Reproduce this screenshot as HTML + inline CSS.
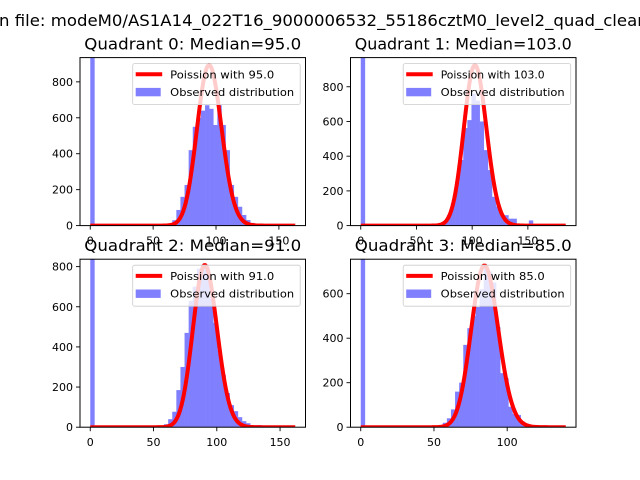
<!DOCTYPE html>
<html><head><meta charset="utf-8"><style>
html,body{margin:0;padding:0;background:#fff;width:640px;height:480px;overflow:hidden}
svg{display:block;font-family:"DejaVu Sans","Liberation Sans",sans-serif}
</style></head><body>
<svg id="fig" width="640" height="480" viewBox="0 0 640 480">
<text x="-1" y="26" font-size="16" textLength="645" lengthAdjust="spacingAndGlyphs">n file: modeM0/AS1A14_022T16_9000006532_55186cztM0_level2_quad_clear</text>
</svg>
<script>
// ---- data ----
const quadrantNames = ["Quadrant 0","Quadrant 1","Quadrant 2","Quadrant 3"];
const medians = [95.0, 103.0, 91.0, 85.0];
const poissonTotals = [21840, 23530, 19320, 16800];
const binMax = [163, 184, 162, 140];
const yMax = [935, 968, 837, 755];
const xTicks = [[0,50,100,150],[0,50,100,150],[0,50,100,150],[0,50,100]];
const yTicks = [[0,200,400,600,800],[0,200,400,600,800],[0,200,400,600,800],[0,200,400,600]];
const q0Counts = [2000,0,0,0,0,0,0,0,0,0, 0,0,0,0,0,0,0,5,8,12, 30,87,160,226,420,550,600,640,670,650, 560,670,560,420,226,160,105,59,31,15, 8,5,3,0,0,0,0,0,0,0];
const q1Counts = [2000,0,0,0,0,0,0,0,0,0, 0,0,0,0,0,3,0,3,5,10, 20,60,130,253,378,562,608,760,720,600, 435,320,166,110,60,60,40,40,10,10, 5,30,5,0,0,0,0,0,0,0];
const q2Counts = [2000,0,0,0,0,0,0,0,0,0, 0,0,0,0,0,0,3,5,15,40, 77,185,300,470,630,700,790,800,800,650, 520,385,260,170,110,80,50,30,20,10, 8,10,5,0,0,0,0,0,0,0];
const q3Counts = [2000,0,0,0,0,0,0,0,0,0, 5,0,0,0,0,0,5,3,5,8, 20,40,80,160,200,370,445,500,540,620, 715,700,650,450,243,220,92,60,55,25, 15,8,5,0,0,0,0,0,0,0];
const allCounts = [q0Counts,q1Counts,q2Counts,q3Counts];

// ---- layout ----
const NS = "http://www.w3.org/2000/svg";
const svg = document.getElementById('fig');
const axesBoxes = [[80,57.6,225.5,168],[350.5,57.6,225.5,168],[80,259.2,225.5,168],[350.5,259.2,225.5,168]];
function mk(tag, attrs, parent){const e=document.createElementNS(NS,tag);for(const k in attrs)e.setAttribute(k,attrs[k]);(parent||svg).appendChild(e);return e;}

const defs = mk('defs',{});
for(let q=0;q<4;q++){
  const [L,T,W,H] = axesBoxes[q];
  const D = binMax[q];
  const xmin=-0.05*D, xmax=1.05*D;
  const sx = v => L + (v-xmin)/(xmax-xmin)*W;
  const sy = v => T + H - v/yMax[q]*H;
  const cp = mk('clipPath',{id:'clip'+q},defs);
  mk('rect',{x:L,y:T,width:W,height:H},cp);

  const ax = mk('g',{});
  
  

  const title = mk('text',{x:L+W/2,y:T-8,'font-size':16,'text-anchor':'middle',textLength:217,lengthAdjust:'spacingAndGlyphs'},ax);
  title.textContent = quadrantNames[q]+': Median='+medians[q].toFixed(1);
  
  

  const plot = mk('g',{'clip-path':'url(#clip'+q+')'},ax);
  const counts = allCounts[q];
  const w = D/counts.length;
  counts.forEach((c,i)=>{
    if(c<=0) return;
    const x0=sx(i*w), x1=sx((i+1)*w);
    const r = mk('rect',{x:x0,y:sy(c),width:x1-x0+0.3,height:sy(0)-sy(c),fill:'#8080ff'},plot);
    
    
  });
  // poisson curve
  const lam = medians[q], N = poissonTotals[q];
  let pts=[], logf=0;
  for(let k=0;k<=Math.floor(D);k++){
    if(k>0) logf += Math.log(k);
    const p = Math.exp(k*Math.log(lam)-lam-logf);
    pts.push(sx(k).toFixed(2)+','+sy(N*p).toFixed(2));
  }
  const line = mk('polyline',{points:pts.join(' '),fill:'none',stroke:'#ff0000','stroke-width':4,'stroke-linejoin':'round'},plot);
  
  

  // ticks
  xTicks[q].forEach(t=>{
    const x=sx(t);
    mk('line',{x1:x,x2:x,y1:T+H,y2:T+H+4,stroke:'#000','stroke-width':0.9},ax);
    const tx=mk('text',{x:x,y:T+H+19,'font-size':11,'text-anchor':'middle'},ax);
    tx.textContent=t;
    
    
  });
  yTicks[q].forEach(t=>{
    const y=sy(t);
    mk('line',{x1:L-4,x2:L,y1:y,y2:y,stroke:'#000','stroke-width':0.9},ax);
    const ty=mk('text',{x:L-7,y:y+4,'font-size':11,'text-anchor':'end'},ax);
    ty.textContent=t;
    
    
  });

  // legend
  const lg = mk('g',{},ax);
  
  
  const R=L+W-5.3, Lx=R-167.5, Ty=T+6;
  mk('rect',{x:Lx,y:Ty,width:167.5,height:41,rx:2,fill:'#fff','fill-opacity':0.8,stroke:'#cccccc','stroke-width':0.8},lg);
  mk('line',{x1:Lx+3,x2:Lx+29.5,y1:Ty+10.7,y2:Ty+10.7,stroke:'#ff0000','stroke-width':4},lg);
  const t1=mk('text',{x:Lx+37.5,y:Ty+15,'font-size':10.8,textLength:104,lengthAdjust:'spacingAndGlyphs'},lg);
  t1.textContent='Poission with '+medians[q].toFixed(1);
  
  
  mk('rect',{x:Lx+3,y:Ty+24.3,width:25,height:8.4,fill:'#8080ff'},lg);
  const t2=mk('text',{x:Lx+37.5,y:Ty+32.3,'font-size':10.8,textLength:124,lengthAdjust:'spacingAndGlyphs'},lg);
  t2.textContent='Observed distribution';
  
  

  mk('rect',{x:L,y:T,width:W,height:H,fill:'none',stroke:'#000','stroke-width':1},ax);
}
</script>
</body></html>
